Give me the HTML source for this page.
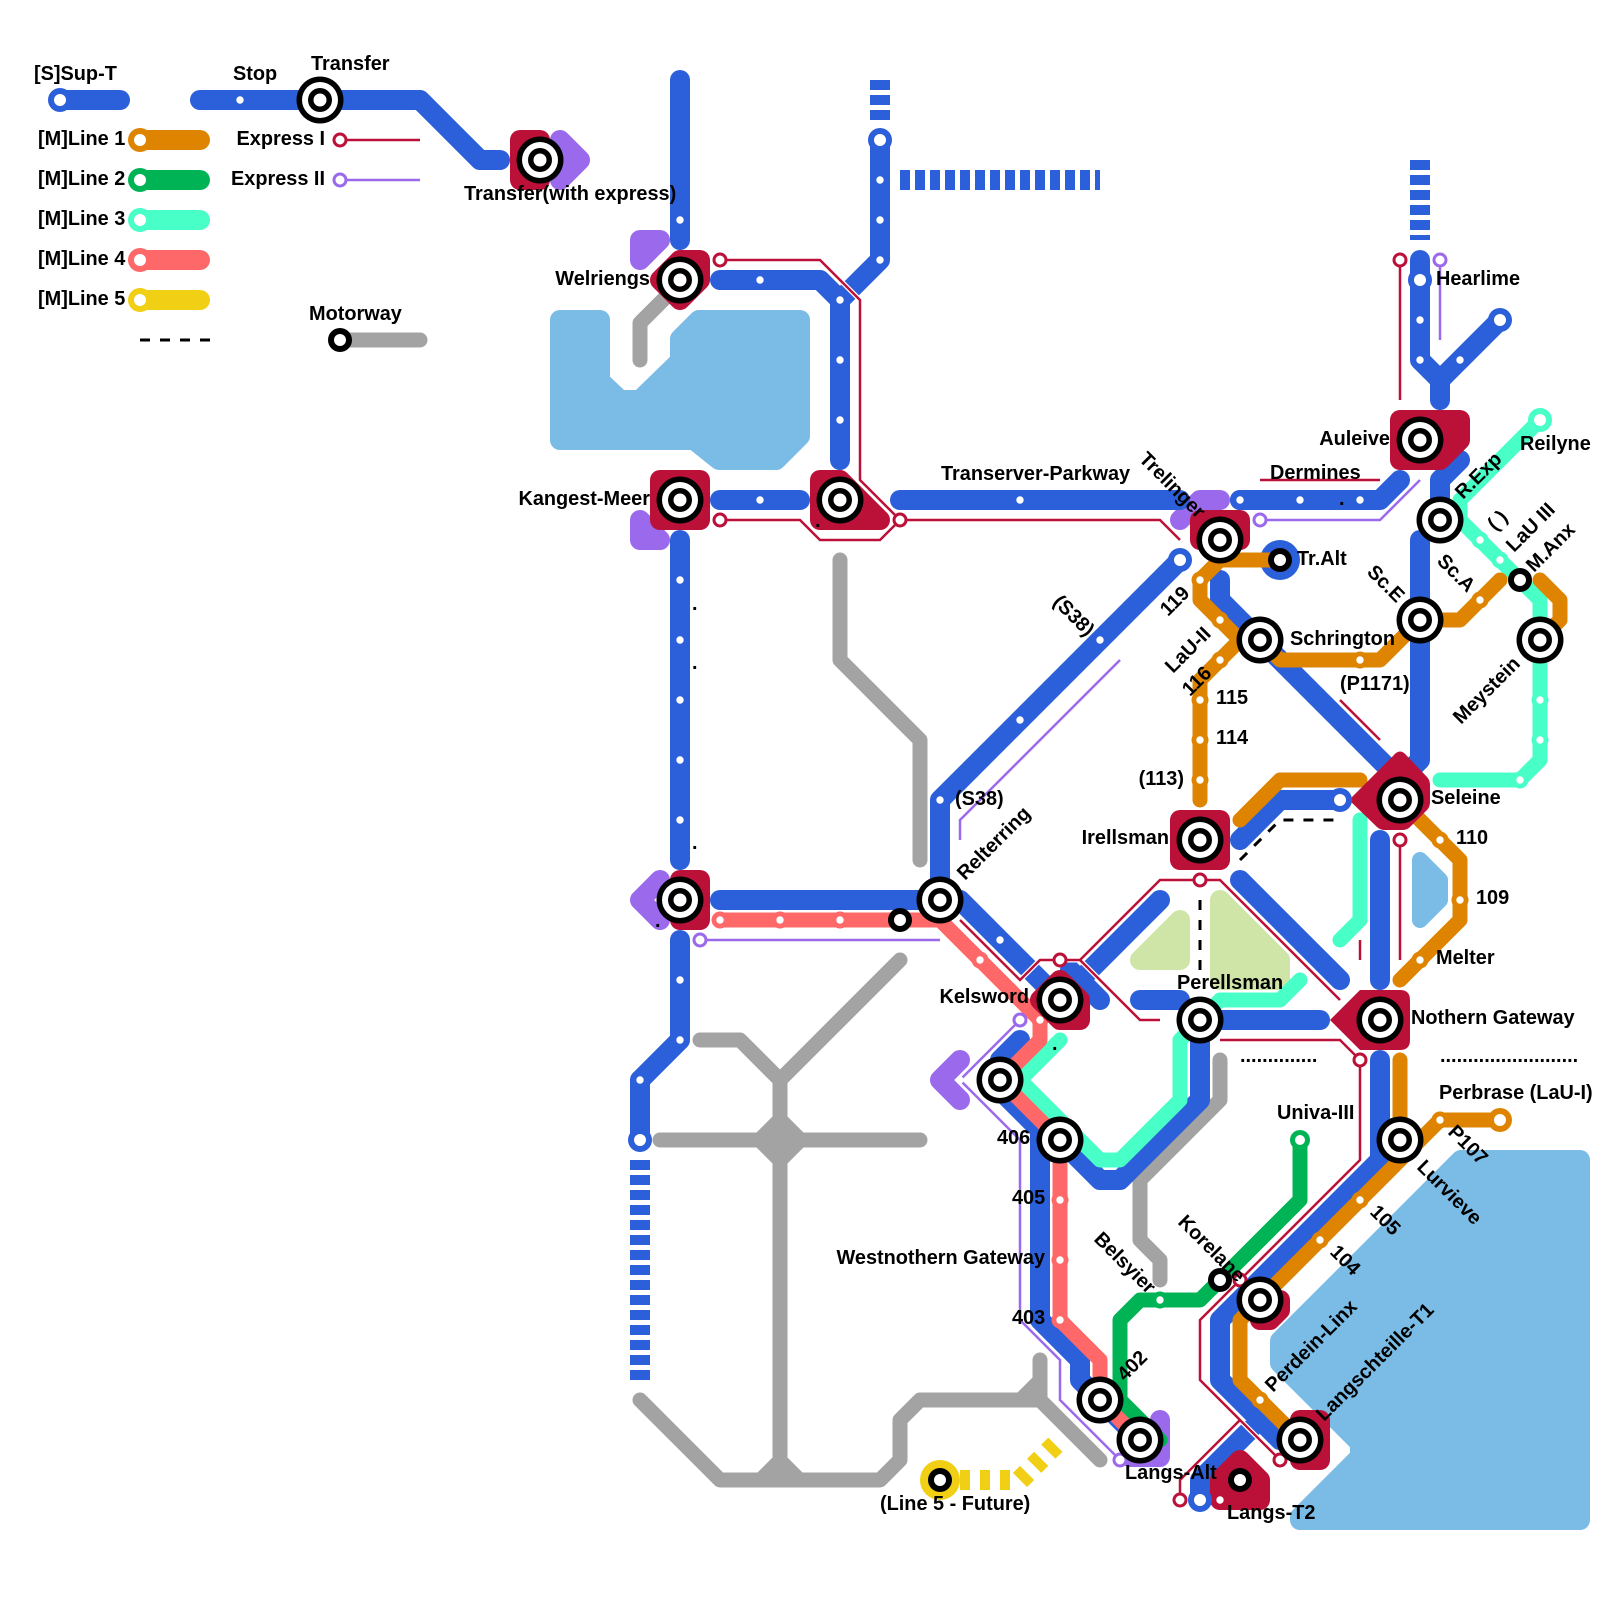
<!DOCTYPE html>
<html>
<head>
<meta charset="utf-8">
<style>
html,body{margin:0;padding:0;background:#fff}
svg{display:block}
text{font-family:"Liberation Sans",sans-serif;font-weight:bold;font-size:19.9px;fill:#000}
.l{fill:none;stroke-linecap:round;stroke-linejoin:round}
.b{stroke:#2c5fda;stroke-width:20}
.o{stroke:#de8400;stroke-width:15}
.g{stroke:#00b456;stroke-width:15}
.m{stroke:#48ffc8;stroke-width:15}
.c{stroke:#ff6868;stroke-width:15}
.y{stroke:#a3a3a3;stroke-width:15}
.h{fill:none;stroke:#fff;stroke-width:5;stroke-linejoin:round}
.r{fill:none;stroke:#bb1138;stroke-width:2.5;stroke-linejoin:miter}
.p{fill:none;stroke:#9b6aec;stroke-width:2.5;stroke-linejoin:miter}
.w{fill:#7abce6;stroke:#7abce6;stroke-width:20;stroke-linejoin:round}
.k{fill:#cfe5a8;stroke:#cfe5a8;stroke-width:20;stroke-linejoin:round}
.rs{fill:#bb1138;stroke:#bb1138;stroke-width:20;stroke-linejoin:round}
.ps{fill:#9b6aec;stroke:#9b6aec;stroke-width:20;stroke-linejoin:round}
.pl{fill:none;stroke:#9b6aec;stroke-width:20;stroke-linejoin:round;stroke-linecap:round}
.d{fill:none;stroke:#2c5fda;stroke-width:20;stroke-dasharray:10 5}
.dd{fill:none;stroke:#000;stroke-width:3;stroke-dasharray:10 10}
.s{fill:#fff}
.er{fill:#fff;stroke:#bb1138;stroke-width:3}
.ep{fill:#fff;stroke:#9b6aec;stroke-width:3}
</style>
</head>
<body>
<svg width="1600" height="1600" viewBox="0 0 1600 1600" xmlns="http://www.w3.org/2000/svg">
<defs>
<g id="st"><circle r="23.5" fill="#000"/><circle r="18" fill="#fff"/><circle r="12" fill="#000"/><circle r="6.5" fill="#fff"/></g>
<g id="sm"><circle r="12" fill="#000"/><circle r="6" fill="#fff"/></g>
</defs>
<rect width="1600" height="1600" fill="#fff"/>

<!-- water and parks -->
<polygon class="w" points="560,320 600,320 600,381 620,400 640,400 680,361 680,339 699,320 800,320 800,436 776,460 719,460 694,440 560,440"/>
<polygon class="w" points="1461,1160 1580,1160 1580,1520 1300,1520 1300,1517 1360,1457 1360,1443 1280,1363 1280,1341"/>
<polygon points="1420,860 1440,880 1440,900 1420,920" fill="#7abce6" stroke="#7abce6" stroke-width="16" stroke-linejoin="round"/>
<polygon class="k" points="1140,960 1180,920 1180,960"/>
<polygon class="k" points="1220,900 1280,960 1280,980 1220,980"/>

<!-- grey motorways -->
<path class="l y" d="M340 340H420"/>
<path class="l y" d="M640 360V323L675 288"/>
<path class="l y" d="M840 560V660L920 740V860"/>
<path class="l y" d="M900 960L780 1080V1480"/>
<path class="l y" d="M700 1040H740L780 1080"/>
<path class="l y" d="M660 1140H920"/>
<polygon points="780,1109 811,1140 780,1171 749,1140" fill="#a3a3a3"/>
<path class="l y" d="M640 1400L720 1480H880L900 1460V1420L920 1400H1040L1100 1460"/>
<polygon points="780,1450 810,1480 810,1487 750,1487 750,1480" fill="#a3a3a3"/>
<path class="l y" d="M1040 1360V1400"/>
<polygon points="1010,1400 1040,1370 1047,1370 1047,1407 1010,1407" fill="#a3a3a3"/>
<path class="l y" d="M1220 1060V1100L1140 1180V1240L1160 1260V1280"/>

<!-- legend lines -->
<path class="l b" d="M60 100H120"/>
<path class="l b" d="M200 100H420L480 160H500"/>
<path class="l" stroke="#de8400" stroke-width="20" d="M140 140H200"/>
<path class="l" stroke="#00b456" stroke-width="20" d="M140 180H200"/>
<path class="l" stroke="#48ffc8" stroke-width="20" d="M140 220H200"/>
<path class="l" stroke="#ff6868" stroke-width="20" d="M140 260H200"/>
<path class="l" stroke="#f0cf14" stroke-width="20" d="M140 300H200"/>
<circle cx="140" cy="140" r="12" fill="#de8400"/><circle cx="140" cy="140" r="6" class="s"/>
<circle cx="140" cy="180" r="12" fill="#00b456"/><circle cx="140" cy="180" r="6" class="s"/>
<circle cx="140" cy="220" r="12" fill="#48ffc8"/><circle cx="140" cy="220" r="6" class="s"/>
<circle cx="140" cy="260" r="12" fill="#ff6868"/><circle cx="140" cy="260" r="6" class="s"/>
<circle cx="140" cy="300" r="12" fill="#f0cf14"/><circle cx="140" cy="300" r="6" class="s"/>
<path class="dd" d="M140 340H210"/>
<path class="r" d="M340 140H420"/>
<path class="p" d="M340 180H420"/>

<!-- dashes -->
<path class="d" d="M880 80V120"/>
<path class="d" d="M900 180H1100"/>
<path class="d" d="M1420 160V240"/>
<path class="d" d="M640 1160V1380"/>
<path class="dd" d="M1240 860L1280 820H1340"/>
<path class="dd" d="M1200 900V970"/>

<!-- yellow -->
<circle cx="940" cy="1480" r="20" fill="#f0cf14"/>
<path fill="none" stroke="#f0cf14" stroke-width="20" stroke-dasharray="10 10" d="M960 1480H1020L1060 1440"/>

<!-- purple shapes -->
<polygon class="ps" points="560,140 580,160 560,180"/>
<polygon class="ps" points="640,240 660,240 640,260"/>
<polygon class="ps" points="640,520 660,540 640,540"/>
<path class="pl" d="M660 880L640 900L660 920"/>
<path class="pl" d="M960 1060L940 1080L960 1100"/>
<path class="l" stroke="#9b6aec" stroke-width="20" d="M1200 500H1220M1200 500L1180 520"/>
<path class="pl" d="M1160 1420V1457H1130"/>

<!-- blue lines -->
<g class="l b">
<path d="M680 80V240"/>
<path d="M720 280H820L840 300V460"/>
<path d="M880 140V260L840 300"/>
<path d="M720 500H800"/>
<path d="M680 540V860"/>
<path d="M720 900H940"/>
<path d="M680 940V1040L640 1080V1140"/>
<path d="M900 500H1180"/>
<path d="M1180 560L940 800V900"/>
<path d="M940 900H960L1060 1000"/>
<path d="M1070 970L1100 1000"/>
<path d="M1160 900L1060 1000"/>
<path d="M1020 1040L1000 1060V1090L1040 1130V1320L1080 1360V1380L1140 1440"/>
<path d="M1060 1140L1100 1180H1120L1200 1100V1020"/>
<path d="M1140 1000H1180"/>
<path d="M1200 1020H1320"/>
<path d="M1420 260V360L1440 380L1500 320"/>
<path d="M1440 380V400"/>
<path d="M1400 480L1380 500H1240"/>
<path d="M1460 460L1440 480V520"/>
<path d="M1420 540V760L1400 780"/>
<path d="M1220 580V600L1400 780"/>
<path d="M1340 800H1280L1240 840"/>
<path d="M1240 880L1340 980"/>
<path d="M1380 840V980"/>
<path d="M1380 1060V1160L1220 1320V1380L1280 1440H1300"/>
<path d="M1200 1500V1480L1250 1430"/>
</g>
<circle cx="1280" cy="560" r="20" fill="#2c5fda"/>

<!-- M lines -->
<path class="l g" d="M1300 1140V1200L1200 1300H1140L1120 1320V1400L1160 1440"/>
<path class="l m" d="M1540 420L1460 500V520L1540 600V760L1520 780H1440"/>
<path class="l m" d="M1360 820V920L1340 940"/>
<path class="l m" d="M1300 980L1280 1000H1220L1200 1020"/>
<path class="l m" d="M1060 1040L1020 1080L1100 1160H1120L1180 1100V1040L1200 1020"/>
<path class="l c" d="M720 920H940L1040 1020V1040L1000 1080L1060 1140V1320L1100 1360V1400L1140 1440"/>
<path class="l o" d="M1280 560H1220L1200 580V600L1240 640H1260L1280 660H1380L1420 620H1460L1500 580"/>
<path class="l o" d="M1250 630L1200 680V800"/>
<path class="l o" d="M1540 580L1560 600V620L1540 640"/>
<path class="l o" d="M1240 820L1280 780H1360"/>
<path class="l o" d="M1400 800L1460 860V920L1400 980"/>
<path class="l o" d="M1400 1060V1160L1260 1300L1240 1320V1380L1300 1440"/>
<path class="l o" d="M1400 1160L1440 1120H1500"/>

<!-- stop bumps -->
<g fill="#de8400">
<circle cx="1200" cy="580" r="8.5"/><circle cx="1220" cy="620" r="8.5"/><circle cx="1220" cy="660" r="8.5"/><circle cx="1360" cy="660" r="8.5"/><circle cx="1480" cy="600" r="8.5"/><circle cx="1200" cy="700" r="8.5"/><circle cx="1200" cy="740" r="8.5"/><circle cx="1200" cy="780" r="8.5"/><circle cx="1440" cy="840" r="8.5"/><circle cx="1460" cy="900" r="8.5"/><circle cx="1420" cy="960" r="8.5"/><circle cx="1440" cy="1120" r="8.5"/><circle cx="1360" cy="1200" r="8.5"/><circle cx="1320" cy="1240" r="8.5"/><circle cx="1260" cy="1400" r="8.5"/>
</g>
<g fill="#48ffc8">
<circle cx="1480" cy="540" r="8.5"/><circle cx="1500" cy="560" r="8.5"/><circle cx="1540" cy="700" r="8.5"/><circle cx="1540" cy="740" r="8.5"/><circle cx="1520" cy="780" r="8.5"/>
</g>
<g fill="#ff6868">
<circle cx="720" cy="920" r="8.5"/><circle cx="780" cy="920" r="8.5"/><circle cx="840" cy="920" r="8.5"/><circle cx="980" cy="960" r="8.5"/><circle cx="1040" cy="1020" r="8.5"/><circle cx="1060" cy="1200" r="8.5"/><circle cx="1060" cy="1260" r="8.5"/><circle cx="1060" cy="1320" r="8.5"/>
</g>
<circle cx="1160" cy="1300" r="8.5" fill="#00b456"/>

<!-- red station shapes -->
<rect x="510" y="130" width="40" height="60" rx="10" fill="#bb1138"/>
<polygon class="rs" points="660,280 680,260 700,260 700,280 680,300"/>
<rect x="650" y="470" width="60" height="60" rx="10" fill="#bb1138"/>
<polygon class="rs" points="820,480 840,480 880,520 820,520"/>
<rect x="670" y="870" width="40" height="60" rx="10" fill="#bb1138"/>
<polygon class="rs" points="1400,420 1460,420 1460,440 1440,460 1400,460"/>
<rect x="1190" y="510" width="60" height="40" rx="10" fill="#bb1138"/>
<rect x="1170" y="810" width="60" height="60" rx="10" fill="#bb1138"/>
<path fill="#bb1138" d="M1349 800L1393 756Q1400 747 1407 756L1427 777Q1430 780 1430 785V802Q1430 807 1427 810L1410 827Q1407 830 1402 830H1385Q1380 830 1377 827Z"/>
<path fill="#bb1138" d="M1330 1020L1360 990H1400Q1410 990 1410 1000V1040Q1410 1050 1400 1050H1360Z"/>
<polygon class="rs" points="1040,1000 1060,980 1080,1000 1080,1020 1060,1020"/>
<polygon class="rs" points="1260,1300 1280,1300 1280,1310 1270,1320 1260,1320"/>
<rect x="1290" y="1410" width="40" height="60" rx="10" fill="#bb1138"/>
<polygon class="rs" points="1240,1460 1260,1480 1260,1500 1220,1500 1220,1480"/>

<!-- express halos -->
<g class="h">
<path d="M720 260H820L860 300V480L900 520"/>
<path d="M720 520H800L820 540H880L900 520H1160L1180 540"/>
<path d="M960 920L1020 980L1040 960H1080L1160 880H1220L1340 1000"/>
<path d="M1080 960L1140 1020H1160"/>
<path d="M1220 1040H1340L1360 1060V1160L1200 1320V1380L1280 1460"/>
<path d="M1180 1500V1480L1240 1420"/>
<path d="M1340 700L1380 740"/>
<path d="M1260 480H1380"/>
<path d="M1260 520H1380L1420 480"/>
<path d="M1020 1020L960 1080L1020 1140V1320L1060 1360V1400L1120 1460"/>
<path d="M700 940H940"/>
</g>

<!-- express -->
<path class="r" d="M720 260H820L860 300V480L900 520"/>
<path class="r" d="M720 520H800L820 540H880L900 520H1160L1180 540"/>
<path class="r" d="M1260 480H1380"/>
<path class="r" d="M1400 260V400"/>
<path class="r" d="M1340 700L1380 740"/>
<path class="r" d="M1400 840V960"/>
<path class="r" d="M1360 940V960"/>
<path class="r" d="M960 920L1020 980L1040 960H1080L1160 880H1220L1340 1000"/>
<path class="r" d="M1080 960L1140 1020H1160"/>
<path class="r" d="M1220 1040H1340L1360 1060V1160L1200 1320V1380L1280 1460"/>
<path class="r" d="M1180 1500V1480L1240 1420"/>
<path class="p" d="M1440 260V340"/>
<path class="p" d="M1260 520H1380L1420 480"/>
<path class="p" d="M700 940H940"/>
<path class="p" d="M960 840V820L1120 660"/>
<path class="p" d="M1020 1020L960 1080L1020 1140V1320L1060 1360V1400L1120 1460"/>

<!-- express terminals -->
<g class="er">
<circle cx="340" cy="140" r="6"/><circle cx="720" cy="260" r="6"/><circle cx="720" cy="520" r="6"/><circle cx="900" cy="520" r="6"/><circle cx="1400" cy="260" r="6"/><circle cx="1400" cy="840" r="6"/><circle cx="1200" cy="880" r="6"/><circle cx="1060" cy="960" r="6"/><circle cx="1360" cy="1060" r="6"/><circle cx="1240" cy="1280" r="6"/><circle cx="1280" cy="1460" r="6"/><circle cx="1180" cy="1500" r="6"/>
</g>
<g class="ep">
<circle cx="340" cy="180" r="6"/><circle cx="1440" cy="260" r="6"/><circle cx="1260" cy="520" r="6"/><circle cx="700" cy="940" r="6"/><circle cx="1020" cy="1020" r="6"/><circle cx="1120" cy="1460" r="6"/>
</g>

<!-- line terminals -->
<g fill="#2c5fda">
<circle cx="60" cy="100" r="12"/><circle cx="880" cy="140" r="12"/><circle cx="640" cy="1140" r="12"/><circle cx="1180" cy="560" r="12"/><circle cx="1420" cy="280" r="12"/><circle cx="1500" cy="320" r="12"/><circle cx="1340" cy="800" r="12"/><circle cx="1200" cy="1500" r="12"/><circle cx="1240" cy="500" r="10"/>
</g>
<circle cx="1540" cy="420" r="12" fill="#48ffc8"/>
<circle cx="1500" cy="1120" r="12" fill="#de8400"/>
<circle cx="1300" cy="1140" r="10" fill="#00b456"/>
<g class="s">
<circle cx="60" cy="100" r="6"/><circle cx="880" cy="140" r="6"/><circle cx="640" cy="1140" r="6"/><circle cx="1180" cy="560" r="6"/><circle cx="1420" cy="280" r="6"/><circle cx="1500" cy="320" r="6"/><circle cx="1340" cy="800" r="6"/><circle cx="1200" cy="1500" r="6"/>
<circle cx="1540" cy="420" r="6"/><circle cx="1500" cy="1120" r="6"/><circle cx="1300" cy="1140" r="5"/>
</g>

<!-- stops -->
<g class="s">
<circle cx="240" cy="100" r="3.7"/>
<circle cx="680" cy="220" r="3.7"/><circle cx="760" cy="280" r="3.7"/><circle cx="840" cy="300" r="3.7"/><circle cx="840" cy="360" r="3.7"/><circle cx="840" cy="420" r="3.7"/>
<circle cx="880" cy="180" r="3.7"/><circle cx="880" cy="220" r="3.7"/><circle cx="880" cy="260" r="3.7"/>
<circle cx="760" cy="500" r="3.7"/><circle cx="1020" cy="500" r="3.7"/>
<circle cx="680" cy="580" r="3.7"/><circle cx="680" cy="640" r="3.7"/><circle cx="680" cy="700" r="3.7"/><circle cx="680" cy="760" r="3.7"/><circle cx="680" cy="820" r="3.7"/>
<circle cx="680" cy="980" r="3.7"/><circle cx="680" cy="1040" r="3.7"/><circle cx="640" cy="1080" r="3.7"/>
<circle cx="720" cy="920" r="3.7"/><circle cx="780" cy="920" r="3.7"/><circle cx="840" cy="920" r="3.7"/>
<circle cx="980" cy="960" r="3.7"/><circle cx="1000" cy="940" r="3.7"/><circle cx="1040" cy="1020" r="3.7"/><circle cx="960" cy="1080" r="3.7"/>
<circle cx="1060" cy="1200" r="3.7"/><circle cx="1060" cy="1260" r="3.7"/><circle cx="1060" cy="1320" r="3.7"/>
<circle cx="940" cy="800" r="3.7"/><circle cx="1020" cy="720" r="3.7"/><circle cx="1100" cy="640" r="3.7"/>
<circle cx="1240" cy="500" r="3.7"/><circle cx="1300" cy="500" r="3.7"/><circle cx="1360" cy="500" r="3.7"/>
<circle cx="1420" cy="320" r="3.7"/><circle cx="1420" cy="360" r="3.7"/><circle cx="1460" cy="360" r="3.7"/>
<circle cx="1200" cy="580" r="3.7"/><circle cx="1220" cy="620" r="3.7"/><circle cx="1220" cy="660" r="3.7"/><circle cx="1360" cy="660" r="3.7"/><circle cx="1480" cy="600" r="3.7"/>
<circle cx="1200" cy="700" r="3.7"/><circle cx="1200" cy="740" r="3.7"/><circle cx="1200" cy="780" r="3.7"/>
<circle cx="1440" cy="840" r="3.7"/><circle cx="1460" cy="900" r="3.7"/><circle cx="1420" cy="960" r="3.7"/>
<circle cx="1480" cy="540" r="3.7"/><circle cx="1500" cy="560" r="3.7"/><circle cx="1540" cy="700" r="3.7"/><circle cx="1540" cy="740" r="3.7"/><circle cx="1520" cy="780" r="3.7"/>
<circle cx="1440" cy="1120" r="3.7"/><circle cx="1360" cy="1200" r="3.7"/><circle cx="1320" cy="1240" r="3.7"/><circle cx="1260" cy="1400" r="3.7"/>
<circle cx="1160" cy="1300" r="3.7"/><circle cx="1220" cy="1500" r="3.7"/>
</g>

<!-- stations -->
<use href="#st" x="320" y="100"/><use href="#st" x="540" y="160"/><use href="#st" x="680" y="280"/><use href="#st" x="680" y="500"/><use href="#st" x="840" y="500"/><use href="#st" x="680" y="900"/><use href="#st" x="940" y="900"/><use href="#st" x="1060" y="1000"/><use href="#st" x="1000" y="1080"/><use href="#st" x="1060" y="1140"/><use href="#st" x="1100" y="1400"/><use href="#st" x="1140" y="1440"/><use href="#st" x="1260" y="1300"/><use href="#st" x="1300" y="1440"/><use href="#st" x="1200" y="1020"/><use href="#st" x="1380" y="1020"/><use href="#st" x="1400" y="1140"/><use href="#st" x="1400" y="800"/><use href="#st" x="1200" y="840"/><use href="#st" x="1260" y="640"/><use href="#st" x="1420" y="620"/><use href="#st" x="1540" y="640"/><use href="#st" x="1440" y="520"/><use href="#st" x="1420" y="440"/><use href="#st" x="1220" y="540"/>
<use href="#sm" x="340" y="340"/><use href="#sm" x="900" y="920"/><use href="#sm" x="1220" y="1280"/><use href="#sm" x="1520" y="580"/><use href="#sm" x="1280" y="560"/><use href="#sm" x="1240" y="1480"/><use href="#sm" x="940" y="1480"/>

<!-- labels -->
<text x="34" y="80">[S]Sup-T</text>
<text x="233" y="80">Stop</text>
<text x="311" y="70">Transfer</text>
<text x="38" y="145">[M]Line 1</text>
<text x="38" y="185">[M]Line 2</text>
<text x="38" y="225">[M]Line 3</text>
<text x="38" y="265">[M]Line 4</text>
<text x="38" y="305">[M]Line 5</text>
<text x="325" y="145" text-anchor="end">Express I</text>
<text x="325" y="185" text-anchor="end">Express II</text>
<text x="464" y="200">Transfer(with express)</text>
<text x="309" y="320">Motorway</text>
<text x="650" y="285" text-anchor="end">Welriengs</text>
<text x="650" y="505" text-anchor="end">Kangest-Meer</text>
<text x="941" y="480">Transerver-Parkway</text>
<text x="1270" y="479">Dermines</text>
<text x="1390" y="445" text-anchor="end">Auleive</text>
<text x="1436" y="285">Hearlime</text>
<text x="1520" y="450">Reilyne</text>
<text x="1297" y="565">Tr.Alt</text>
<text x="1290" y="645">Schrington</text>
<text x="1216" y="704">115</text>
<text x="1216" y="744">114</text>
<text x="1184" y="785" text-anchor="end">(113)</text>
<text x="1340" y="690">(P1171)</text>
<text x="1431" y="804">Seleine</text>
<text x="1169" y="844" text-anchor="end">Irellsman</text>
<text x="1456" y="844">110</text>
<text x="1476" y="904">109</text>
<text x="1436" y="964">Melter</text>
<text x="1177" y="989">Perellsman</text>
<text x="1411" y="1024">Nothern Gateway</text>
<text x="1439" y="1099">Perbrase (LaU-I)</text>
<text x="1277" y="1119">Univa-III</text>
<text x="955" y="805">(S38)</text>
<text x="1029" y="1003" text-anchor="end">Kelsword</text>
<text x="997" y="1144">406</text>
<text x="1012" y="1204">405</text>
<text x="1012" y="1324">403</text>
<text x="1045" y="1264" text-anchor="end">Westnothern Gateway</text>
<text x="1125" y="1479">Langs-Alt</text>
<text x="1227" y="1519">Langs-T2</text>
<text x="880" y="1510">(Line 5 - Future)</text>
<text x="1240" y="1062">..............</text>
<text x="1440" y="1062">.........................</text>

<text transform="translate(1138,460) rotate(45)">Trelinger</text>
<text transform="translate(1052,603) rotate(45)">(S38)</text>
<text transform="translate(965,881) rotate(-45)">Relterring</text>
<text transform="translate(1463,500) rotate(-45)">R.Exp</text>
<text transform="translate(1502,525) rotate(-45)" text-anchor="middle">( )</text>
<text transform="translate(1514,553) rotate(-45)">LaU III</text>
<text transform="translate(1534,573) rotate(-45)">M.Anx</text>
<text transform="translate(1436,562) rotate(45)">Sc.A</text>
<text transform="translate(1366,573) rotate(45)">Sc.E</text>
<text transform="translate(1461,725) rotate(-45)">Meystein</text>
<text transform="translate(1168,617) rotate(-45)">119</text>
<text transform="translate(1173,674) rotate(-45)">LaU-II</text>
<text transform="translate(1190,697) rotate(-45)">116</text>
<text transform="translate(1093,1240) rotate(45)">Belsyier</text>
<text transform="translate(1177,1223) rotate(45)">Korelane</text>
<text transform="translate(1125,1382) rotate(-45)">402</text>
<text transform="translate(1273,1393) rotate(-45)">Perdein-Linx</text>
<text transform="translate(1324,1422) rotate(-45)">Langschteille-T1</text>
<text transform="translate(1447,1133) rotate(45)">P107</text>
<text transform="translate(1416,1168) rotate(45)">Lurvieve</text>
<text transform="translate(1369,1213) rotate(45)">105</text>
<text transform="translate(1329,1253) rotate(45)">104</text>

<text x="692" y="610">.</text>
<text x="692" y="669">.</text>
<text x="692" y="849">.</text>
<text x="655" y="927">.</text>
<text x="815" y="527">.</text>
<text x="1339" y="505">.</text>
<text x="1052" y="1050">.</text>
</svg>
</body>
</html>
